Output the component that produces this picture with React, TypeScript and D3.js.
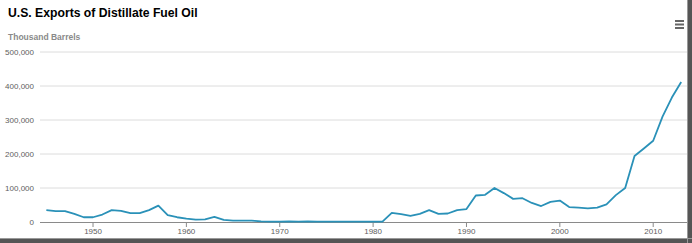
import React from "react";
import * as d3 from "d3";

const years: number[] = d3.range(1945, 2014);
const exportsKbbl: number[] = [
  35, 32, 32, 24, 14, 14, 22, 35, 33, 26, 26, 35, 48, 20, 14, 10, 7, 8, 15, 6,
  4, 4, 4, 2, 1, 1, 2, 1, 2, 1, 1, 1, 1, 1, 1, 1, 1, 27, 23, 18, 24, 35, 24, 25,
  35, 38, 78, 80, 100, 85, 68, 70, 56, 47, 59, 63, 44, 42, 40, 42, 52, 79, 100,
  194, 216, 239, 310, 366, 412,
].map((v) => v * 1000);
const yTicks: number[] = [0, 100000, 200000, 300000, 400000, 500000];
const xTicks: number[] = [1950, 1960, 1970, 1980, 1990, 2000, 2010];

const W = 692;
const H = 243;
const left = 40;
const right = 688;
const top = 52;
const bottom = 222;

export default function App() {
  const x = d3.scaleLinear().domain([1944.32, 2013.3]).range([left, 684]);
  const y = d3.scaleLinear().domain([0, 500000]).range([bottom, top]);
  const line = d3
    .line<number>()
    .x((_, i) => x(years[i]))
    .y((d) => y(d));
  const fmt = d3.format(",");
  const font = "'Liberation Sans', Arial, Helvetica, sans-serif";
  return (
    <svg
      width={W}
      height={H}
      style={{ position: "absolute", left: 0, top: 0, background: "#fff" }}
      fontFamily={font}
    >
      <rect x={0} y={0} width={W} height={H} fill="#fff" />
      <text x={8} y={17} fontSize={12.2} fontWeight="bold" fill="#000">
        U.S. Exports of Distillate Fuel Oil
      </text>
      <text x={8} y={40} fontSize={8.5} fontWeight="bold" fill="#8a8a8a">
        Thousand Barrels
      </text>
      {/* menu icon */}
      {[0, 1, 2].map((i) => (
        <rect key={i} x={675} y={20 + i * 3.5} width={9} height={2} fill="#666" />
      ))}
      {yTicks.map((t) => (
        <g key={t}>
          {t > 0 && (
            <line x1={left} x2={right} y1={y(t)} y2={y(t)} stroke="#dcdcdc" strokeWidth={1} />
          )}
          <text x={34} y={y(t) + 3} fontSize={8} textAnchor="end" fill="#606060">
            {fmt(t)}
          </text>
        </g>
      ))}
      <line x1={left} x2={right} y1={bottom + 0.5} y2={bottom + 0.5} stroke="#8a8a8a" strokeWidth={1.2} />
      {xTicks.map((t) => (
        <g key={t}>
          <line x1={x(t)} x2={x(t)} y1={bottom} y2={bottom + 5} stroke="#8a8a8a" strokeWidth={1} />
          <text x={x(t)} y={234} fontSize={8} textAnchor="middle" fill="#606060">
            {t}
          </text>
        </g>
      ))}
      <path
        d={line(exportsKbbl) || ""}
        fill="none"
        stroke="#2a91b8"
        strokeWidth={1.8}
        strokeLinejoin="round"
      />
      {/* screenshot frame shadow */}
      <rect x={688} y={0} width={4} height={H} fill="#555" />
      <rect x={0} y={239} width={W} height={4} fill="#555" />
      <rect x={687} y={0} width={1} height={H} fill="#999" />
      <rect x={0} y={238} width={W} height={1} fill="#999" />
    </svg>
  );
}
